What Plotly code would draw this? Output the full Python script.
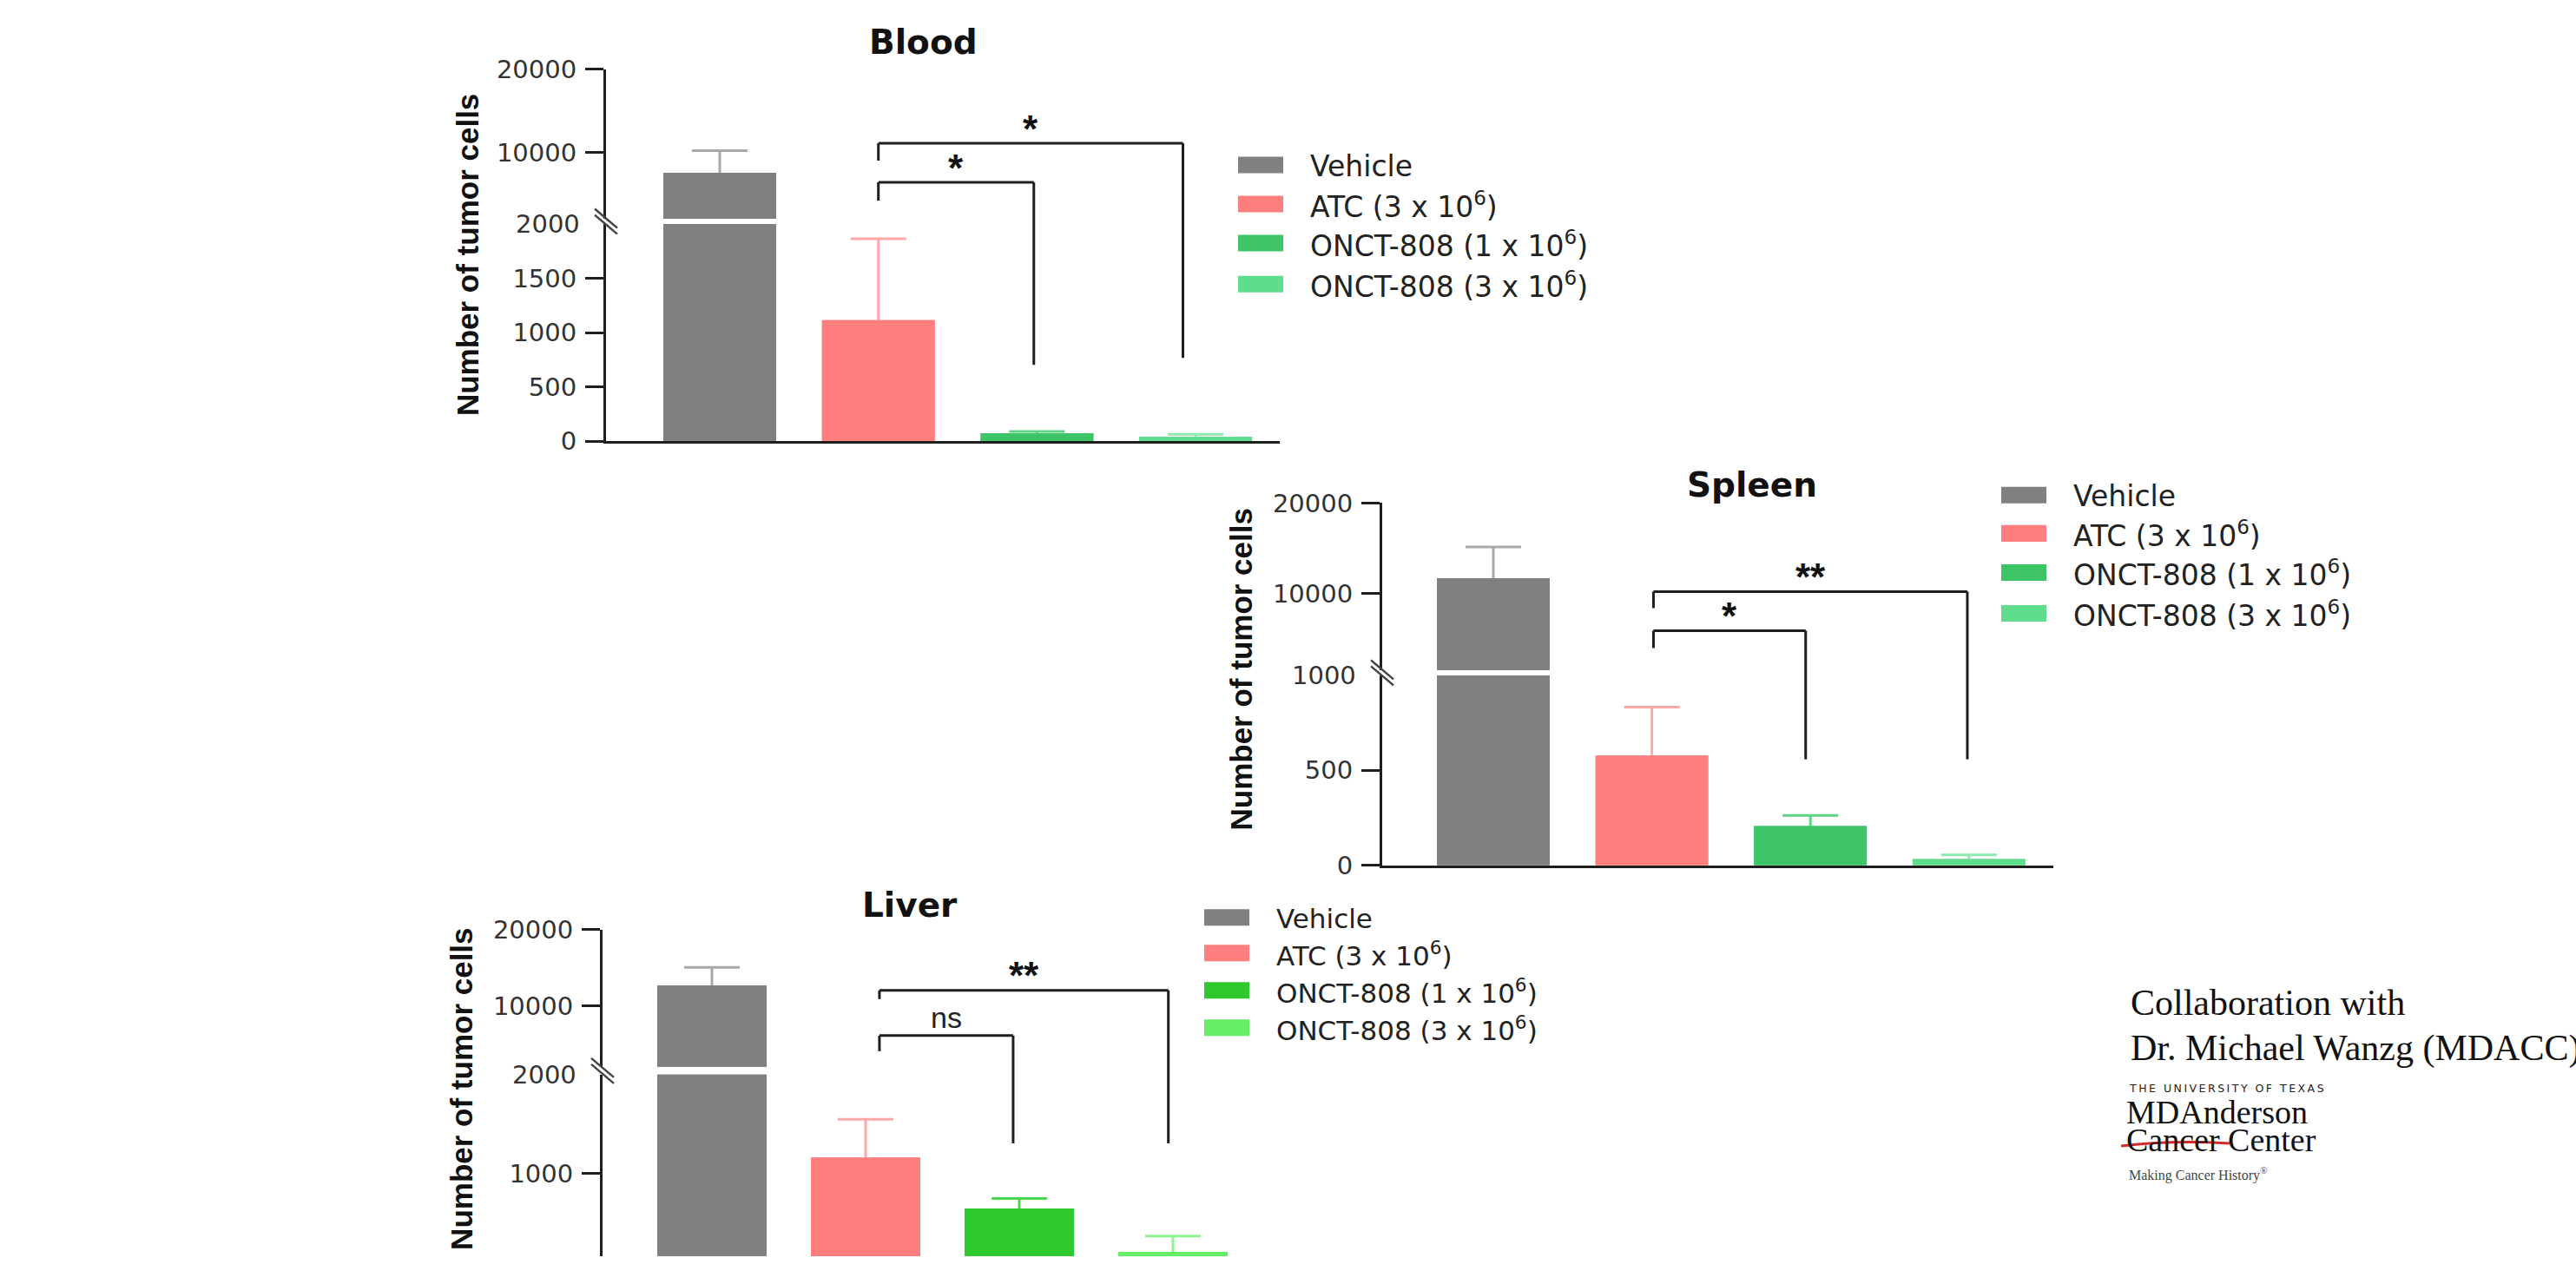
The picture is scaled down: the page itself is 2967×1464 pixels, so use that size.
import plotly.graph_objects as go

W, H = 2967, 1464          # page / window size
OFF = 0                    # body margin is removed by the post script
FW, FH = W - 2 * OFF, H - 2 * OFF
# measured vertical mapping of the photographed page (screen_y = SY * page_y + TY)
SY, TY = 0.976, 16.1

# ---------------- data ----------------
categories = ["Vehicle", "ATC", "ONCT-808 1x10^6", "ONCT-808 3x10^6"]
legend_labels = ["Vehicle", "ATC (3 x 10<sup>6</sup>)",
                 "ONCT-808 (1 x 10<sup>6</sup>)", "ONCT-808 (3 x 10<sup>6</sup>)"]
organs = ["Blood", "Spleen", "Liver"]

blood_mean = [7550, 1115, 75, 40]
blood_sem = [2660, 750, 15, 25]
spleen_mean = [11670, 578, 207, 33]
spleen_sem = [3460, 255, 55, 22]
liver_mean = [12680, 1165, 650, 210]
liver_sem = [2360, 385, 100, 160]

blood_lower_ticks = [0, 500, 1000, 1500]
spleen_lower_ticks = [0, 500]
liver_lower_ticks = [0, 1000]
upper_ticks = [10000, 20000]
break_labels = [2000, 1000, 2000]

# significance: (label, group a, group b)
blood_sig = [("*", 1, 2), ("*", 1, 3)]
spleen_sig = [("*", 1, 2), ("**", 1, 3)]
liver_sig = [("ns", 1, 2), ("**", 1, 3)]

# ---------------- styles / layout ----------------
bar_colors = [
    ["#808080", "#ff7f7f", "#3cc466", "#5fdc8c"],
    ["#808080", "#ff7f7f", "#3cc466", "#5fdc8c"],
    ["#808080", "#ff7f7f", "#2ec92e", "#66ee66"],
]
err_colors = [
    ["#a8a8a8", "#ffa8a8", "#5fd484", "#8fe8ae"],
    ["#a8a8a8", "#ffa8a8", "#5fd484", "#8fe8ae"],
    ["#a8a8a8", "#ffa8a8", "#4fd64f", "#8ff48f"],
]

# lower_px = (pixel of value 0, pixel of the segment top); upper_px = (bottom, top)
panels = [
    dict(mean=blood_mean, sem=blood_sem, lower_ticks=blood_lower_ticks, sig=blood_sig,
         lower_top=2000, upper_range=[2000, 20000],
         axis_px=698, xend_px=1474, upper_px=(251, 79), lower_px=(507, 257),
         cat0=829, step=182.7, barw=0.711, show_x=True,
         title_px=(1063, 48), ytitle_px=(538, 293),
         leg_x=1426, leg_rows=[189, 234, 279, 326], leg_tx=1507, leg_fs=33,
         brackets=[(1.0, 1.98, 230, 209, 419), (1.0, 2.92, 184, 164, 411)]),
    dict(mean=spleen_mean, sem=spleen_sem, lower_ticks=spleen_lower_ticks, sig=spleen_sig,
         lower_top=1000, upper_range=[1500, 20000],
         axis_px=1592, xend_px=2365, upper_px=(770.4, 578), lower_px=(995, 776.4),
         cat0=1720, step=182.6, barw=0.711, show_x=True,
         title_px=(2018, 557), ytitle_px=(1429, 770),
         leg_x=2305, leg_rows=[569, 613, 658, 705], leg_tx=2386, leg_fs=33,
         brackets=[(1.01, 1.97, 745, 725, 873), (1.01, 2.99, 699, 680, 873)]),
    dict(mean=liver_mean, sem=liver_sem, lower_ticks=liver_lower_ticks, sig=liver_sig,
         lower_top=2000, upper_range=[2000, 20000],
         axis_px=694, xend_px=1450, upper_px=(1227, 1069), lower_px=(1464, 1236),
         cat0=820, step=177, barw=0.712, show_x=False,
         title_px=(1048, 1041), ytitle_px=(532, 1253),
         leg_x=1387, leg_rows=[1055, 1096, 1139, 1182], leg_tx=1468, leg_fs=31,
         brackets=[(1.09, 1.96, 1209, 1191, 1315), (1.09, 2.97, 1149, 1139, 1315)]),
]


def fx(px):
    return (px - OFF) / FW


def page_y(py):
    return (py - TY) / SY


def fy(py):
    return 1 - (page_y(py) - OFF) / FH


def note(x, y, text, font, xanchor="center", yanchor="middle", **kw):
    d = dict(x=x, y=y, xref=kw.pop("xref", "paper"), yref=kw.pop("yref", "paper"),
             text=text, showarrow=False, xanchor=xanchor, yanchor=yanchor, font=font)
    d.update(kw)
    return d


AX = "#1e1e1e"
TICKFONT = dict(family="DejaVu Sans", size=29, color="#333333")

fig = go.Figure()
shapes = []
annotations = []
layout = {}

for k, p in enumerate(panels):
    xn = k + 1
    ylo = 2 * k + 1
    yup = 2 * k + 2
    xname = "x" if xn == 1 else f"x{xn}"
    ylo_name = "y" if ylo == 1 else f"y{ylo}"
    yup_name = f"y{yup}"

    left = -(p["cat0"] - p["axis_px"]) / p["step"]
    right = 3 + (p["xend_px"] - (p["cat0"] + 3 * p["step"])) / p["step"]

    layout["xaxis" if xn == 1 else f"xaxis{xn}"] = dict(
        domain=[fx(p["axis_px"]), fx(p["xend_px"])], anchor=ylo_name,
        type="category", categoryorder="array", categoryarray=categories,
        range=[left, right], showline=p["show_x"], linecolor=AX, linewidth=3,
        ticks="", showticklabels=False, showgrid=False, zeroline=False, fixedrange=True)

    # lower segment: clip at the bottom of the page if needed
    zero_pg, top_pg = page_y(p["lower_px"][0]), page_y(p["lower_px"][1])
    bottom_pg = min(zero_pg, OFF + FH)
    lower_min = p["lower_top"] * (zero_pg - bottom_pg) / (zero_pg - top_pg)
    lower_range = [lower_min, p["lower_top"]]

    common_y = dict(anchor=xname, showline=True, linecolor=AX, linewidth=3,
                    ticks="outside", ticklen=21, tickwidth=3, tickcolor=AX,
                    tickfont=TICKFONT, showgrid=False, zeroline=False, tickformat="d",
                    ticklabelstandoff=4, fixedrange=True)
    layout["yaxis" if ylo == 1 else f"yaxis{ylo}"] = dict(
        domain=[max(0.0, 1 - (bottom_pg - OFF) / FH), fy(p["lower_px"][1])],
        range=lower_range, tickmode="array", tickvals=p["lower_ticks"], **common_y)
    layout[f"yaxis{yup}"] = dict(
        domain=[fy(p["upper_px"][0]), fy(p["upper_px"][1])],
        range=p["upper_range"], tickmode="array", tickvals=upper_ticks, **common_y)

    # bars in both segments: first a bar carrying the (symmetric) error bar,
    # then the same bar drawn on top so that only the upper half of the error shows
    for seg_name, rng in ((ylo_name, lower_range), (yup_name, p["upper_range"])):
        for i, cat in enumerate(categories):
            m, s = p["mean"][i], p["sem"][i]
            show_err = (m + s) > rng[0] and m < rng[1]
            fig.add_trace(go.Bar(
                x=[cat], y=[m], width=p["barw"], xaxis=xname, yaxis=seg_name,
                marker=dict(color=bar_colors[k][i], line=dict(width=0)),
                error_y=dict(type="data", array=[s], color=err_colors[k][i],
                             thickness=3, width=32, visible=show_err),
                showlegend=False, hoverinfo="skip"))
        for i, cat in enumerate(categories):
            fig.add_trace(go.Bar(
                x=[cat], y=[p["mean"][i]], width=p["barw"], xaxis=xname, yaxis=seg_name,
                marker=dict(color=bar_colors[k][i], line=dict(width=0)),
                showlegend=False, hoverinfo="skip"))

    # break label on the axis
    annotations.append(note(fx(p["axis_px"] - 28), break_labels[k], str(break_labels[k]),
                            TICKFONT, xanchor="right", yref=ylo_name))

    # break marks
    bx = p["axis_px"]
    by = (p["lower_px"][1] + p["upper_px"][0]) / 2
    for dy in (-3.5, 3.5):
        shapes.append(dict(type="line", xref="paper", yref="paper",
                           x0=fx(bx - 13), y0=fy(by - 11 + dy),
                           x1=fx(bx + 13), y1=fy(by + 11 + dy),
                           line=dict(color="#444444", width=2.5)))

    # significance brackets
    for (lab, ga, gb), (cl, cr, lb, top, rb) in zip(p["sig"], p["brackets"]):
        for (x0, y0, x1, y1) in ((cl, lb, cl, top), (cl, top, cr, top), (cr, top, cr, rb)):
            shapes.append(dict(type="line", xref=xname, yref="paper",
                               x0=x0, y0=fy(y0), x1=x1, y1=fy(y1),
                               line=dict(color=AX, width=3)))
        if lab == "ns":
            annotations.append(note((cl + cr) / 2, fy(top - 21), "ns",
                                    dict(family="Liberation Sans", size=34, color="#222222"),
                                    xref=xname))
        else:
            annotations.append(note((cl + cr) / 2, fy(top - 17), lab,
                                    dict(family="Liberation Sans", size=44, color="#111111",
                                         weight="bold"), xref=xname))

    # titles
    annotations.append(note(fx(p["title_px"][0]), fy(p["title_px"][1]), organs[k],
                            dict(family="DejaVu Sans", size=39, color="#111111",
                                 weight="bold")))
    annotations.append(note(fx(p["ytitle_px"][0]), fy(p["ytitle_px"][1]),
                            "Number of tumor cells",
                            dict(family="Liberation Sans", size=35, color="#111111",
                                 weight="bold"), textangle=-90))

    # legend
    for i, lab in enumerate(legend_labels):
        yc = p["leg_rows"][i]
        shapes.append(dict(type="rect", xref="paper", yref="paper",
                           x0=fx(p["leg_x"]), x1=fx(p["leg_x"] + 52),
                           y0=fy(yc + 9.5), y1=fy(yc - 9.5),
                           fillcolor=bar_colors[k][i], line=dict(width=0)))
        annotations.append(note(fx(p["leg_tx"]), fy(yc + 1), lab,
                                dict(family="DejaVu Sans", size=p["leg_fs"], color="#222222"),
                                xanchor="left"))

# collaboration text + logo
serif = "Liberation Serif"
ts = "\u2009"
annotations += [
    note(fx(2452), fy(1153), "Collaboration with",
         dict(family=serif, size=42, color="#111111"), xanchor="left"),
    note(fx(2452), fy(1206), "Dr. Michael Wanzg (MDACC)",
         dict(family=serif, size=42, color="#111111"), xanchor="left"),
    note(fx(2450), fy(1252), ts.join("THE UNIVERSITY OF TEXAS"),
         dict(family="DejaVu Sans", size=12.5, color="#222222"), xanchor="left"),
    note(fx(2447), fy(1279), "MDAnderson",
         dict(family=serif, size=38, color="#111111"), xanchor="left"),
    note(fx(2447), fy(1311), "Cancer Center",
         dict(family=serif, size=38, color="#111111"), xanchor="left"),
    note(fx(2450), fy(1351), "Making Cancer History<sup>®</sup>",
         dict(family=serif, size=16, color="#444444"), xanchor="left"),
]
shapes.append(dict(type="path", xref="paper", yref="paper",
                   path=f"M {fx(2443)} {fy(1318)} Q {fx(2505)} {fy(1311)} {fx(2568)} {fy(1315)}",
                   line=dict(color="#d42a2a", width=3)))

fig.update_layout(
    width=FW, height=FH, margin=dict(l=0, r=0, t=0, b=0),
    paper_bgcolor="white", plot_bgcolor="rgba(0,0,0,0)",
    barmode="overlay", showlegend=False,
    shapes=shapes, annotations=annotations, **layout)

fig.write_html("out.html", include_plotlyjs=True, config={"displayModeBar": False},
               post_script="document.body.style.margin='0';document.body.style.overflow='hidden';")
